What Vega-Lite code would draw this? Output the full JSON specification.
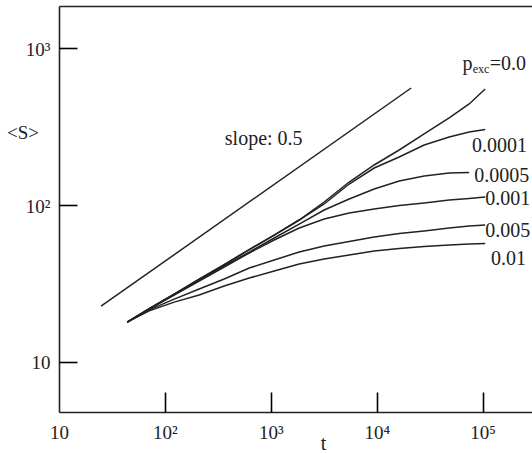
{
  "$schema": "https://vega.github.io/schema/vega-lite/v6.json",
  "width": 473,
  "height": 406,
  "autosize": {"type": "none"},
  "padding": {"left": 59, "top": 6, "right": 0, "bottom": 41},
  "background": "white",
  "config": {
    "view": {"stroke": null},
    "axis": {
      "domainColor": "#222",
      "domainWidth": 1.6,
      "labelFont": "Liberation Serif",
      "labelFontSize": 19,
      "labelColor": "#222",
      "titleFont": "Liberation Serif",
      "titleFontSize": 20,
      "titleFontWeight": "normal",
      "titleColor": "#222",
      "grid": false
    },
    "text": {"font": "Liberation Serif", "color": "#222"}
  },
  "datasets": {
    "slope": [
      {"t": 24.93, "S": 22.6},
      {"t": 21170, "S": 558}
    ],
    "curves": [
      {"p": "0.0", "t": 44.06, "S": 17.9}, {"p": "0.0", "t": 71.11, "S": 21.8}, {"p": "0.0", "t": 122.4, "S": 27.0}, {"p": "0.0", "t": 210.8, "S": 33.6}, {"p": "0.0", "t": 363.1, "S": 41.7}, {"p": "0.0", "t": 625.3, "S": 51.9}, {"p": "0.0", "t": 1077, "S": 64.3}, {"p": "0.0", "t": 1854, "S": 80.2}, {"p": "0.0", "t": 3193, "S": 104.5}, {"p": "0.0", "t": 5499, "S": 140.2}, {"p": "0.0", "t": 9471, "S": 180.0}, {"p": "0.0", "t": 16310, "S": 224.4}, {"p": "0.0", "t": 28090, "S": 283.9}, {"p": "0.0", "t": 48370, "S": 359.2}, {"p": "0.0", "t": 74720, "S": 441.2}, {"p": "0.0", "t": 105800, "S": 550.1},
      {"p": "0.0001", "t": 44.06, "S": 17.9}, {"p": "0.0001", "t": 71.11, "S": 21.8}, {"p": "0.0001", "t": 122.4, "S": 27.0}, {"p": "0.0001", "t": 210.8, "S": 33.6}, {"p": "0.0001", "t": 363.1, "S": 41.7}, {"p": "0.0001", "t": 625.3, "S": 51.9}, {"p": "0.0001", "t": 1077, "S": 64.3}, {"p": "0.0001", "t": 1854, "S": 80.2}, {"p": "0.0001", "t": 3193, "S": 101.5}, {"p": "0.0001", "t": 5499, "S": 136.1}, {"p": "0.0001", "t": 9471, "S": 172.2}, {"p": "0.0001", "t": 16310, "S": 202.5}, {"p": "0.0001", "t": 28090, "S": 241.5}, {"p": "0.0001", "t": 48370, "S": 271.6}, {"p": "0.0001", "t": 74720, "S": 292.4}, {"p": "0.0001", "t": 105800, "S": 303.3},
      {"p": "0.0005", "t": 44.06, "S": 17.9}, {"p": "0.0005", "t": 71.11, "S": 21.7}, {"p": "0.0005", "t": 122.4, "S": 26.9}, {"p": "0.0005", "t": 210.8, "S": 33.2}, {"p": "0.0005", "t": 363.1, "S": 40.8}, {"p": "0.0005", "t": 625.3, "S": 50.1}, {"p": "0.0005", "t": 1077, "S": 61.6}, {"p": "0.0005", "t": 1854, "S": 75.6}, {"p": "0.0005", "t": 3193, "S": 92.9}, {"p": "0.0005", "t": 5499, "S": 109.2}, {"p": "0.0005", "t": 9471, "S": 126.5}, {"p": "0.0005", "t": 16310, "S": 142.3}, {"p": "0.0005", "t": 28090, "S": 153.1}, {"p": "0.0005", "t": 48370, "S": 160.0}, {"p": "0.0005", "t": 74720, "S": 161.2},
      {"p": "0.001", "t": 44.06, "S": 17.9}, {"p": "0.001", "t": 71.11, "S": 21.7}, {"p": "0.001", "t": 122.4, "S": 26.65}, {"p": "0.001", "t": 210.8, "S": 32.7}, {"p": "0.001", "t": 363.1, "S": 40.2}, {"p": "0.001", "t": 625.3, "S": 49.4}, {"p": "0.001", "t": 1077, "S": 59.8}, {"p": "0.001", "t": 1854, "S": 71.3}, {"p": "0.001", "t": 3193, "S": 81.4}, {"p": "0.001", "t": 5499, "S": 88.9}, {"p": "0.001", "t": 9471, "S": 94.3}, {"p": "0.001", "t": 16310, "S": 99.3}, {"p": "0.001", "t": 28090, "S": 103.0}, {"p": "0.001", "t": 48370, "S": 107.6}, {"p": "0.001", "t": 74720, "S": 110.0}, {"p": "0.001", "t": 105800, "S": 112.5},
      {"p": "0.005", "t": 44.06, "S": 17.9}, {"p": "0.005", "t": 71.11, "S": 21.4}, {"p": "0.005", "t": 122.4, "S": 25.1}, {"p": "0.005", "t": 210.8, "S": 29.1}, {"p": "0.005", "t": 363.1, "S": 33.7}, {"p": "0.005", "t": 625.3, "S": 39.6}, {"p": "0.005", "t": 1077, "S": 44.6}, {"p": "0.005", "t": 1854, "S": 50.1}, {"p": "0.005", "t": 3193, "S": 54.8}, {"p": "0.005", "t": 5499, "S": 58.5}, {"p": "0.005", "t": 9471, "S": 62.5}, {"p": "0.005", "t": 16310, "S": 65.8}, {"p": "0.005", "t": 28090, "S": 68.25}, {"p": "0.005", "t": 48370, "S": 71.3}, {"p": "0.005", "t": 74720, "S": 73.45}, {"p": "0.005", "t": 105800, "S": 74.5},
      {"p": "0.01", "t": 44.06, "S": 17.9}, {"p": "0.01", "t": 71.11, "S": 21.1}, {"p": "0.01", "t": 122.4, "S": 24.0}, {"p": "0.01", "t": 210.8, "S": 26.65}, {"p": "0.01", "t": 363.1, "S": 30.4}, {"p": "0.01", "t": 625.3, "S": 34.2}, {"p": "0.01", "t": 1077, "S": 37.9}, {"p": "0.01", "t": 1854, "S": 42.0}, {"p": "0.01", "t": 3193, "S": 45.2}, {"p": "0.01", "t": 5499, "S": 48.0}, {"p": "0.01", "t": 9471, "S": 50.9}, {"p": "0.01", "t": 16310, "S": 52.8}, {"p": "0.01", "t": 28090, "S": 54.35}, {"p": "0.01", "t": 48370, "S": 55.6}, {"p": "0.01", "t": 74720, "S": 56.4}, {"p": "0.01", "t": 105800, "S": 56.8}
    ],
    "labels": [
      {"t": 367.8, "S": 241.5, "txt": "slope: 0.5", "fs": 20},
      {"t": 79250, "S": 218.8, "txt": "0.0001", "fs": 20},
      {"t": 83300, "S": 140.8, "txt": "0.0005", "fs": 20},
      {"t": 105800, "S": 100, "txt": "0.001", "fs": 20},
      {"t": 105800, "S": 62.8, "txt": "0.005", "fs": 20},
      {"t": 119800, "S": 41.4, "txt": "0.01", "fs": 20},
      {"t": 64570, "S": 727, "txt": "p", "fs": 20},
      {"t": 80630, "S": 690.6, "txt": "exc", "fs": 12},
      {"t": 117000, "S": 727, "txt": "=0.0", "fs": 20}
    ]
  },
  "resolve": {"axis": {"x": "independent", "y": "independent"}},
  "layer": [
    {
      "data": {"name": "slope"},
      "mark": {"type": "line", "color": "#222", "strokeWidth": 1.5},
      "encoding": {
        "x": {
          "field": "t", "type": "quantitative",
          "scale": {"type": "log", "domain": [10, 292800], "nice": false},
          "axis": {
            "orient": "bottom",
            "values": [10, 100, 1000, 10000, 100000],
            "ticks": false,
            "labelPadding": 11,
            "labelFlush": false,
            "labelExpr": "datum.value == 10 ? '10' : datum.value == 100 ? '10²' : datum.value == 1000 ? '10³' : datum.value == 10000 ? '10⁴' : '10⁵'",
            "title": "t",
            "titleX": 264,
            "titleY": 37,
            "titleBaseline": "alphabetic",
            "titleAnchor": null
          }
        },
        "y": {
          "field": "S", "type": "quantitative",
          "scale": {"type": "log", "domain": [4.775, 1862], "nice": false},
          "axis": {
            "orient": "left",
            "values": [10, 100, 1000],
            "ticks": false,
            "labelPadding": 9,
            "labelOffset": 1,
            "labelExpr": "datum.value == 10 ? '10' : datum.value == 100 ? '10²' : '10³'",
            "title": "<S>",
            "titleAngle": 0,
            "titleX": -36.5,
            "titleY": 126,
            "titleAlign": "center",
            "titleBaseline": "middle",
            "titleFontSize": 19
          }
        }
      }
    },
    {
      "data": {"name": "curves"},
      "mark": {"type": "line", "color": "#222", "strokeWidth": 1.5},
      "encoding": {
        "x": {
          "field": "t", "type": "quantitative",
          "axis": {"orient": "top", "labels": false, "ticks": false, "title": null, "domain": true}
        },
        "y": {
          "field": "S", "type": "quantitative",
          "axis": {"orient": "right", "offset": -473, "values": [10, 100, 1000], "labels": false, "ticks": true, "tickSize": 18, "tickColor": "black", "tickWidth": 1.6, "tickOpacity": 1, "domain": false, "title": null}
        },
        "detail": {"field": "p", "type": "nominal"}
      }
    },
    {
      "data": {"name": "labels"},
      "mark": {"type": "text", "align": "left", "baseline": "alphabetic"},
      "encoding": {
        "x": {
          "field": "t", "type": "quantitative",
          "axis": {"orient": "top", "offset": -406, "values": [100, 1000, 10000, 100000], "labels": false, "ticks": true, "tickSize": 20, "tickColor": "black", "tickWidth": 1.6, "tickOpacity": 1, "domain": false, "title": null}
        },
        "y": {"field": "S", "type": "quantitative", "axis": null},
        "text": {"field": "txt", "type": "nominal"},
        "size": {"field": "fs", "type": "quantitative", "scale": null}
      }
    }
  ]
}
